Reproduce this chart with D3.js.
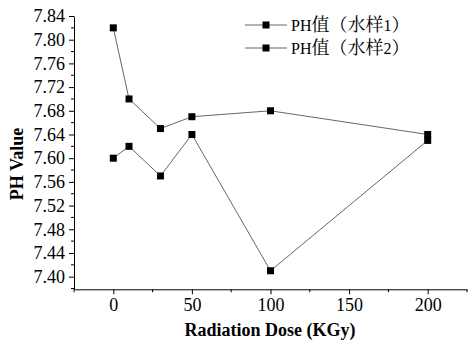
<!DOCTYPE html>
<html>
<head>
<meta charset="utf-8">
<script src="https://cdn.jsdelivr.net/npm/d3@7"></script>
<style>
  html, body { margin: 0; padding: 0; background: #fff; }
  svg { display: block; }
  text { font-family: "Liberation Serif", "Times New Roman", "Noto Serif CJK SC", "Noto Sans CJK SC", serif; fill: #000; }
</style>
</head>
<body>
<svg id="chart" width="472" height="348"></svg>
<script>
// ---- data ----
const doses = [0, 10, 30, 50, 100, 200];
const series1 = [7.82, 7.70, 7.65, 7.67, 7.68, 7.64];
const series2 = [7.60, 7.62, 7.57, 7.64, 7.41, 7.63];
const seriesNames = ["PH值（水样1）", "PH值（水样2）"];
const xTicks = [0, 50, 100, 150, 200];
const yTicks = [7.40, 7.44, 7.48, 7.52, 7.56, 7.60, 7.64, 7.68, 7.72, 7.76, 7.80, 7.84];
const xTitle = "Radiation Dose (KGy)";
const yTitle = "PH Value";

// ---- layout ----
const svg = d3.select("#chart");
const x = d3.scaleLinear().domain([-25, 225]).range([74, 467]);
const y = d3.scaleLinear().domain([7.3787, 7.84]).range([289.3, 16]);

const lineColor = "#666";

// minor ticks
const xMinor = d3.range(-25, 226, 25).filter(v => !xTicks.includes(v));
const yMinor = d3.range(7.38, 7.841, 0.02).map(v => +v.toFixed(2)).filter(v => !yTicks.some(t => Math.abs(t - v) < 1e-6));

// x axis
const gx = svg.append("g").attr("transform", `translate(0,${y.range()[0]})`)
  .call(d3.axisBottom(x).tickValues(xTicks).tickFormat(d3.format("d")).tickSize(5).tickSizeOuter(0).tickPadding(4));
gx.selectAll(".tick line").attr("stroke", "#000");
gx.select(".domain").attr("stroke", "#000");
gx.selectAll(".tick text").attr("font-size", 18);
gx.selectAll(".minor").data(xMinor).enter().append("line")
  .attr("x1", d => x(d)).attr("x2", d => x(d)).attr("y1", 0).attr("y2", 3).attr("stroke", "#000");

// y axis
const gy = svg.append("g").attr("transform", `translate(${x.range()[0]},0)`)
  .call(d3.axisLeft(y).tickValues(yTicks).tickFormat(d3.format(".2f")).tickSize(5).tickSizeOuter(0).tickPadding(4));
gy.selectAll(".tick line").attr("stroke", "#000");
gy.select(".domain").attr("stroke", "#000");
gy.selectAll(".tick text").attr("font-size", 18);
gy.selectAll(".minor").data(yMinor).enter().append("line")
  .attr("y1", d => y(d)).attr("y2", d => y(d)).attr("x1", 0).attr("x2", -3).attr("stroke", "#000");

// axis titles
svg.append("text").attr("x", 270).attr("y", 336).attr("text-anchor", "middle")
  .attr("font-size", 18).attr("font-weight", "bold").text(xTitle);
svg.append("text").attr("transform", "translate(23,164) rotate(-90)").attr("text-anchor", "middle")
  .attr("font-size", 18).attr("font-weight", "bold").text(yTitle);

// lines and markers
const line = d3.line().x(d => x(d[0])).y(d => y(d[1]));
[series1, series2].forEach(s => {
  const pts = doses.map((d, i) => [d, s[i]]);
  svg.append("path").datum(pts).attr("d", line).attr("fill", "none").attr("stroke", lineColor).attr("stroke-width", 1);
  svg.selectAll(null).data(pts).enter().append("rect")
    .attr("x", d => x(d[0]) - 3.5).attr("y", d => y(d[1]) - 3.5)
    .attr("width", 7).attr("height", 7).attr("fill", "#000");
});

// legend: Latin runs slightly smaller than CJK runs, as in the original
const legendY = [25, 48];
seriesNames.forEach((name, i) => {
  const g = svg.append("g").attr("transform", `translate(245,${legendY[i]})`);
  g.append("line").attr("x1", 0).attr("x2", 42).attr("y1", 0).attr("y2", 0).attr("stroke", lineColor);
  g.append("rect").attr("x", 21 - 3.5).attr("y", -3.5).attr("width", 7).attr("height", 7).attr("fill", "#000");
  const t = g.append("text").attr("x", 46).attr("y", 6);
  const runs = name.match(/[\x00-\x7F]+|[^\x00-\x7F]+/g);
  runs.forEach(r => {
    const latin = /^[\x00-\x7F]+$/.test(r);
    t.append("tspan").attr("font-size", latin ? 16 : 18).text(r);
  });
});
</script>
</body>
</html>
